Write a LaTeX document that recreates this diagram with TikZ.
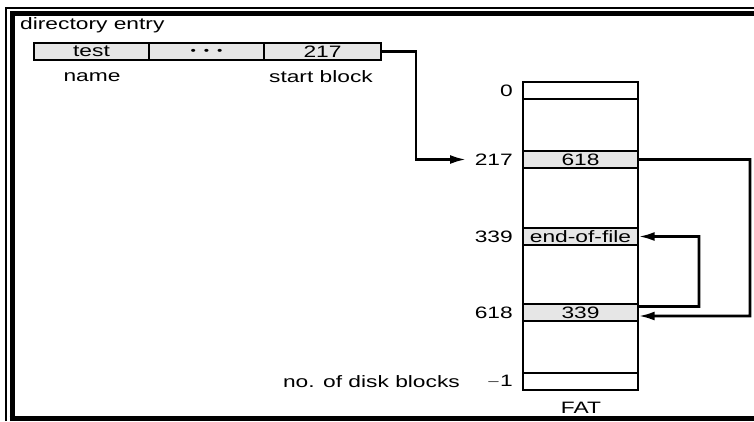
\documentclass[tikz,border=0pt]{standalone}
\usepackage{fontspec}
\setmainfont{Liberation Sans}[FakeStretch=1.38]
\usetikzlibrary{arrows.meta}
\definecolor{cellgray}{HTML}{E6E6E6}
\tikzset{
  cell/.style={draw, line width=1.3bp, fill=cellgray, minimum width=115bp, minimum height=17bp, inner sep=0pt, anchor=center},
  dcell/.style={cell, minimum width=115bp},
  ecell/.style={cell, fill=white},
  lbl/.style={inner sep=0pt, anchor=east},
  txt/.style={inner sep=0pt},
  conn/.style={line width=2.6bp},
  arr/.style={conn, -{Latex[length=16bp,width=9bp]}},
}
\begin{document}
\begin{tikzpicture}[x=1bp, y=-1bp, font=\fontsize{16.5bp}{19bp}\selectfont]
\useasboundingbox (0,0) rectangle (754,421);
% frame
\draw[line width=2bp] (6,421) -- (6,8) -- (754,8);
\draw[line width=5bp] (12,421) -- (12,13.5) -- (754,13.5);
\draw[line width=5bp] (9.5,418.5) -- (754,418.5);
% directory entry
\node[txt, anchor=base west] (de) at (20,29) {directory entry};
\node[dcell] (dtest) at (91.5,51.5) {test};
\node[dcell] (ddots) at (206.5,51.5) {\fontsize{11bp}{11bp}\selectfont •\hspace{8bp}•\hspace{8bp}•};
\node[dcell, minimum width=117bp] (d217) at (322.5,51.5) {217};
\node[txt] (lname) at (92,77) {name};
\node[txt] (lstart) at (321,77) {start block};
% FAT
\node[draw, line width=1.3bp, minimum width=115bp, minimum height=308bp, inner sep=0pt] (fat) at (580.5,236) {};
\node[ecell] (r0) at (580.5,90.5) {};
\node[cell] (r217) at (580.5,159.5) {618};
\node[cell] (r339) at (580.5,236.5) {end-of-file};
\node[cell] (r618) at (580.5,312.5) {339};
\node[ecell] (rn) at (580.5,381.5) {};
\node[lbl] (l0) at (513,91) {0};
\node[lbl] (l217) at (513,159.5) {217};
\node[lbl] (l339) at (513,236.5) {339};
\node[lbl] (l618) at (513,312.5) {618};
\node[lbl] (ln) at (513,381.5) {$-$1};
\node[lbl] (lnd) at (460,381.5) {no. of disk blocks};
\node[txt] (lfat) at (581,408) {FAT};
% connectors
\coordinate (a1) at (466,159.5);
\draw[arr] (d217.east) -- (416,51.5) -- (416,159.5) -- (a1);
\draw[arr] (r217.east) -- (750,159.5) -- (750,316) -- ([yshift=-3.5bp]r618.east);
\draw[arr] ([yshift=6bp]r618.east) -- (699,306.5) -- (699,236.5) -- (r339.east);
\end{tikzpicture}
\end{document}
